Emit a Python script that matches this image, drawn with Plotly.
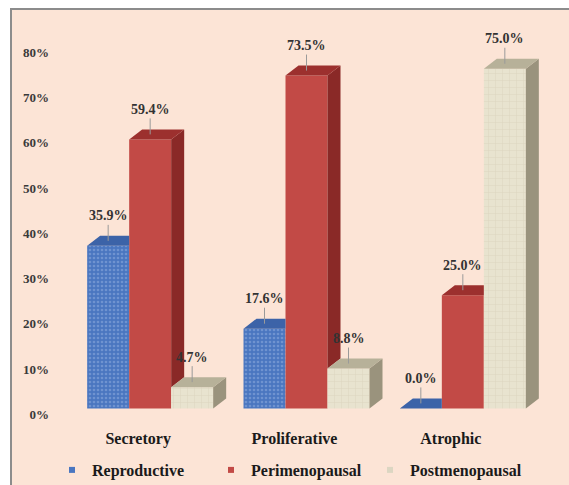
import numpy as np
import plotly.graph_objects as go

# ---- data -------------------------------------------------------------
categories = ["Secretory", "Proliferative", "Atrophic"]
series_names = ["Reproductive", "Perimenopausal", "Postmenopausal"]
reproductive = [35.9, 17.6, 0.0]
perimenopausal = [59.4, 73.5, 25.0]
postmenopausal = [4.7, 8.8, 75.0]
y_ticks = [0, 10, 20, 30, 40, 50, 60, 70, 80]
y_tick_labels = [f"{t}%" for t in y_ticks]

series_values = [reproductive, perimenopausal, postmenopausal]

# ---- styling ----------------------------------------------------------
W, H = 569, 485
M_L, M_R, M_T, M_B = 72, 28, 28, 63
Y_RANGE = [-3, 84]
BG = "#FCE4D6"
SERIF = "Liberation Serif"

front = ["#4A76C0", "#C24A46", "#E8E3CF"]
pattern_fg = ["#93B0E0", None, "#CBC3AA"]
pattern_shape = [".", "", "+"]
pattern_size = [4, 8, 7]
pattern_solid = [0.35, 0.3, 0.12]
top_col = ["#3C63A8", "#9C302E", "#B7B199"]
side_col = ["#2F4F8C", "#8A2927", "#9A937D"]

BARGAP = 0.194
n_series = len(series_values)
bar_w = (1 - BARGAP) / n_series

plot_w = W - M_L - M_R
plot_h = H - M_T - M_B
px_per_x = plot_w / 3.0
px_per_y = plot_h / (Y_RANGE[1] - Y_RANGE[0])
DX = 13 / px_per_x          # depth offset along x (data units)
DY = 10 / px_per_y          # depth offset along y (data units)

x_pos = np.arange(len(categories))

fig = go.Figure()

# front faces as real bars
for s, (name, vals) in enumerate(zip(series_names, series_values)):
    pat = dict(shape=pattern_shape[s], size=pattern_size[s],
               solidity=pattern_solid[s], bgcolor=front[s])
    if pattern_fg[s]:
        pat["fgcolor"] = pattern_fg[s]
    fig.add_trace(go.Bar(
        x=x_pos, y=vals, name=name, legendgroup=name, showlegend=False,
        marker=dict(color=front[s], line=dict(width=0), pattern=pat),
        hovertemplate="%{y:.1f}%<extra>" + name + "</extra>",
    ))

# depth faces (top and right side) derived from the same values
for i in range(len(categories)):
    for s in range(n_series):
        h = series_values[s][i]
        h_next = series_values[s + 1][i] if s + 1 < n_series else 0.0
        xl = i + (s - n_series / 2) * bar_w
        xr = xl + bar_w
        name = series_names[s]

        # right side, only the part above the neighbouring bar
        if h_next < h:
            y0 = max(h_next, 0.0)
            sx = [xr, xr + DX, xr + DX, xr, xr]
            sy = [y0, y0 + DY, h + DY, h, y0]
            fig.add_trace(go.Scatter(
                x=sx, y=sy, mode="lines", fill="toself", fillcolor=side_col[s],
                line=dict(width=0), hoverinfo="skip", showlegend=False,
                legendgroup=name))

        # top face, trimmed where the neighbouring bar covers it
        t = float(np.clip((h_next - h) / DY, 0, 1))
        tx = [xl, xr, xr, xr + DX * t, xr + DX, xl + DX, xl]
        ty = [h, h, h + DY * t, h + DY * t, h + DY, h + DY, h]
        fig.add_trace(go.Scatter(
            x=tx, y=ty, mode="lines", fill="toself", fillcolor=top_col[s],
            line=dict(width=0), hoverinfo="skip", showlegend=False,
            legendgroup=name))

# legend entries with small square keys
for s, name in enumerate(series_names):
    fig.add_trace(go.Scatter(
        x=[None], y=[None], mode="markers", name=name, legendgroup=name,
        marker=dict(symbol="square", size=6, color=front[s] if s < 2 else "#DCD6C2")))

# value labels with leader lines
for i in range(len(categories)):
    for s in range(n_series):
        h = series_values[s][i]
        xc = i + (s - n_series / 2 + 0.5) * bar_w
        fig.add_annotation(
            x=xc, y=h + DY / 2, text=f"{h:.1f}%", showarrow=True,
            arrowhead=0, arrowwidth=1, arrowcolor="#9A9A9A",
            ax=0, ay=-25, standoff=0,
            font=dict(family=SERIF, size=14, color="#333333", weight="bold"))

# frame: white strip top/left with grey edge
def px_to_paper_x(px):
    return (px - M_L) / plot_w

def px_to_paper_y(py):
    return (H - M_B - py) / plot_h

shapes = [
    dict(type="rect", xref="paper", yref="paper", layer="below",
         x0=px_to_paper_x(0), x1=px_to_paper_x(W), y0=px_to_paper_y(8.5), y1=px_to_paper_y(0),
         fillcolor="white", line=dict(width=0)),
    dict(type="rect", xref="paper", yref="paper", layer="below",
         x0=px_to_paper_x(0), x1=px_to_paper_x(10.5), y0=px_to_paper_y(H), y1=px_to_paper_y(0),
         fillcolor="white", line=dict(width=0)),
    dict(type="line", xref="paper", yref="paper",
         x0=px_to_paper_x(10), x1=px_to_paper_x(W), y0=px_to_paper_y(9), y1=px_to_paper_y(9),
         line=dict(color="#8C8C8C", width=2)),
    dict(type="line", xref="paper", yref="paper",
         x0=px_to_paper_x(11), x1=px_to_paper_x(11), y0=px_to_paper_y(H), y1=px_to_paper_y(8),
         line=dict(color="#8C8C8C", width=2)),
]

fig.update_layout(
    width=W, height=H,
    margin=dict(l=M_L, r=M_R, t=M_T, b=M_B, pad=0, autoexpand=False),
    paper_bgcolor=BG, plot_bgcolor=BG,
    barmode="group", bargap=BARGAP, bargroupgap=0,
    shapes=shapes,
    showlegend=True,
    legend=dict(orientation="h", x=px_to_paper_x(52), xanchor="left",
                y=px_to_paper_y(470), yanchor="middle", entrywidth=114,
                font=dict(family=SERIF, size=16, color="#1A1A1A", weight="bold"),
                bgcolor="rgba(0,0,0,0)", itemclick="toggle"),
    font=dict(family=SERIF),
)

fig.update_xaxes(
    range=[-0.5, 2.5], tickvals=list(x_pos), ticktext=categories,
    showgrid=False, zeroline=False, showline=False, ticks="",
    ticklabelshift=-12, ticklabelstandoff=5,
    tickfont=dict(family=SERIF, size=16, color="#1A1A1A", weight="bold"),
)
fig.update_yaxes(
    range=Y_RANGE, tickvals=y_ticks, ticktext=y_tick_labels,
    showgrid=False, zeroline=False, showline=False, ticks="",
    ticklabelshift=6, ticklabelstandoff=22,
    tickfont=dict(family=SERIF, size=13, color="#3A3A3A", weight="bold"),
)

fig.write_html("out.html")
